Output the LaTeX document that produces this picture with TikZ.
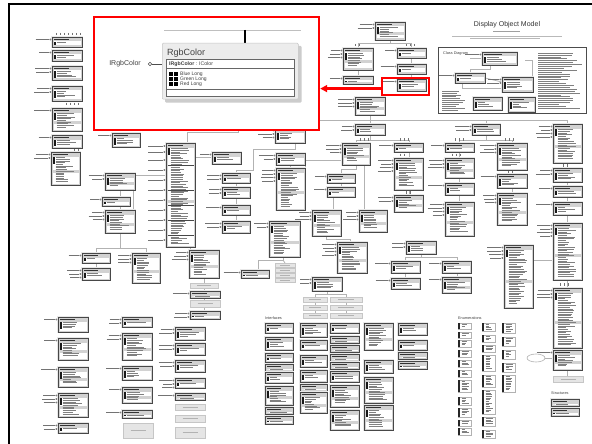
\documentclass[tikz,border=0pt]{standalone}
\usepackage{fontspec}
\setmainfont{Liberation Sans}
\usetikzlibrary{arrows.meta}

\tikzset{
  txt/.style={draw=black!50, line width=0.6pt},
  lbl/.style={draw=black!55, line width=0.7pt},
  hd/.style={draw=black!80, line width=0.9pt},
  boxline/.style={draw=black!72, line width=0.75pt},
  lol/.style={draw=black!60, fill=white, line width=0.3pt},
  conn/.style={draw=gray!60, line width=0.75pt},
  hilite/.style={draw=red, line width=2.2pt},
  callarrow/.style={red, line width=2.2pt, -{Triangle[length=7pt,width=7pt]}},
  rgbbox/.style={fill=gray!15, draw=gray!45, line width=0.5pt, rounded corners=1pt, inner sep=0pt},
  rgbtext/.style={text=black!75, inner sep=0pt},
}

% class box: x, y (top left), width, height, number of interface labels
\newcommand\cb[5]{%
  \fill[gray!18] (#1-1,#2-1) rectangle ++(#3+2,#4+2);
  \fill[gray!35] (#1,#2) rectangle ++(#3,#4);
  \fill[white] (#1+1.5,#2+4.5) rectangle (#1+#3-1.5,#2+#4-1.5);
  \ifdim#4pt>15pt
    \fill[gray!35] (#1+1.5,{#2+#4*0.55}) rectangle ++(#3-3,3);
  \fi
  \pgfmathtruncatemacro\nLines{max(1,(#4-7)/1.7)}
  \foreach \k in {1,...,\nLines}{%
    \pgfmathsetmacro\lenA{(#3-8)*(0.35+0.55*rnd)}
    \draw[txt] (#1+4.5,#2+3.8+1.7*\k) -- ++(\lenA,0);}
  \fill[black!90] (#1+2,#2+5.3) rectangle ++(2.2,{min(#4-7,7)});
  \draw[boxline] (#1,#2) rectangle ++(#3,#4);
  \draw[hd] (#1+2,#2+2.3) -- ++({#3*0.5},0);
  \ifnum#5>0
    \foreach \k in {1,...,#5}{%
      \pgfmathsetmacro\lenA{9+6*rnd}
      \draw[lbl] (#1-2.6-\lenA,#2-1+3.5*\k) -- (#1-2.6,#2-1+3.5*\k);
      \draw[lol] (#1-1.6,#2-1+3.5*\k) circle (0.75);}
  \fi
}
% plain grey note box
\newcommand\gb[4]{%
  \filldraw[fill=gray!20, draw=gray!45, line width=0.5pt] (#1,#2) rectangle ++(#3,#4);
  \draw[gray!60, line width=0.6pt] (#1+#3*0.25,#2+#4/2) -- ++(#3*0.5,0);
}
% enumeration entry
\newcommand\eb[3]{%
  \draw[gray!60, line width=0.4pt] (#1,#2) rectangle ++(13,#3);
  \fill[black!85] (#1,#2) rectangle ++(2.4,#3);
  \pgfmathtruncatemacro\nLines{max(1,(#3-1)/1.7)}
  \foreach \k in {1,...,\nLines}{%
    \pgfmathsetmacro\lenA{8*(0.4+0.6*rnd)}
    \draw[txt, line width=0.5pt] (#1+3.5,#2+1.7*\k-0.6) -- ++(\lenA,0);}
}
% block of text lines: x, y, max width, lines, spacing
\newcommand\tb[5]{%
  \foreach \k in {1,...,#4}{%
    \pgfmathsetmacro\lenA{#3*(0.45+0.55*rnd)}
    \draw[txt, line width=0.55pt] (#1,#2+#5*\k-#5) -- ++(\lenA,0);}
}
% tick marks above a box: x start, y, count
\newcommand\ticks[3]{%
  \foreach \k in {1,...,#3}{\draw[black!55, line width=0.6pt] (#1+4*\k-4,#2) -- ++(0,2.5);}
}

\begin{document}
\begin{tikzpicture}[x=1pt, y=-1pt]
\pgfmathsetseed{7}
\path[use as bounding box, fill=white] (0,0) rectangle (592,444);

% slide frame
\draw[line width=2.6pt, line cap=rect] (592,4) -- (9,4) -- (9,446);

% ---------- connectors ----------
\draw[conn] (238,120) -- (567,120);
\draw[conn] (370,115) -- (370,124);
\draw[conn] (486,120) -- (486,124);
\draw[conn] (567,120) -- (567,124);
\draw[conn] (238,129) -- (238,132) -- (187,132) -- (187,143);
\draw[conn] (295,143) -- (295,149) -- (253,149) -- (253,170) -- (236,170) -- (236,173);
\draw[conn] (195,157) -- (212,157);
\draw[conn] (135,175) -- (166,175);
\draw[conn] (120,190) -- (120,197);
\draw[conn] (120,206) -- (120,210);
\draw[conn] (133,190) -- (133,210);
\draw[conn] (120,233) -- (120,248);
\draw[conn] (96,248) -- (146,248);
\draw[conn] (96,248) -- (96,253);
\draw[conn] (146,248) -- (146,253);
\draw[conn] (96,263) -- (96,268);
\draw[conn] (190,247) -- (190,250);
\draw[conn] (204,278) -- (204,311);
\draw[conn] (236,183) -- (236,187);
\draw[conn] (236,198) -- (236,205);
\draw[conn] (236,215) -- (236,221);
\draw[conn] (290,165) -- (290,168);
\draw[conn] (283,257) -- (283,260) -- (258,260) -- (258,270);
\draw[conn] (283,260) -- (285,263);
\draw[conn] (370,135) -- (370,140);
\draw[conn] (356,140) -- (409,140);
\draw[conn] (356,140) -- (356,143);
\draw[conn] (409,140) -- (409,143);
\draw[conn] (486,135) -- (486,140);
\draw[conn] (459,140) -- (512,140);
\draw[conn] (459,140) -- (459,143);
\draw[conn] (512,140) -- (512,143);
\draw[conn] (409,152) -- (409,158);
\draw[conn] (409,190) -- (409,195);
\draw[conn] (459,152) -- (459,158);
\draw[conn] (459,178) -- (459,183);
\draw[conn] (459,195) -- (459,202);
\draw[conn] (512,170) -- (512,174);
\draw[conn] (512,188) -- (512,193);
\draw[conn] (567,163) -- (567,168);
\draw[conn] (567,182) -- (567,186);
\draw[conn] (567,197) -- (567,202);
\draw[conn] (567,215) -- (567,223);
\draw[conn] (567,280) -- (567,288);
\draw[conn] (567,348) -- (567,350);
\draw[conn] (567,370) -- (567,376);
\draw[conn] (356,165) -- (356,169) -- (341,169) -- (341,174);
\draw[conn] (341,183) -- (341,187);
\draw[conn] (333,197) -- (333,210);
\draw[conn] (364,165) -- (364,210);
\draw[conn] (326,236) -- (326,239) -- (350,239) -- (350,242);
\draw[conn] (305,210) -- (305,160) -- (342,160);
\draw[conn] (421,254) -- (421,257);
\draw[conn] (405,257) -- (457,257);
\draw[conn] (405,257) -- (405,261);
\draw[conn] (457,257) -- (457,261);
\draw[conn] (405,273) -- (405,278);
\draw[conn] (457,273) -- (457,277);
\draw[conn] (327,291) -- (327,294) -- (315,294) -- (315,297);
\draw[conn] (327,294) -- (346,294) -- (346,297);
\draw[conn] (315,302) -- (315,305);
\draw[conn] (315,310) -- (315,313);
\draw[conn] (346,302) -- (346,305);
\draw[conn] (346,310) -- (346,313);
\draw[conn] (390,40) -- (390,43);
\draw[conn] (358,43) -- (411,43);
\draw[conn] (358,43) -- (358,48);
\draw[conn] (411,43) -- (411,48);
\draw[conn] (411,58) -- (411,64);
\draw[conn] (411,74) -- (411,79);
\draw[conn] (358,70) -- (358,76);
\draw[conn] (533,260) -- (553,260);
\draw[conn] (545,358) -- (553,358);
\draw[gray!60, line width=0.6pt] (536,358) ellipse (9 and 4);
\ticks{56}{33}{7}
\ticks{66}{102.5}{4}
\ticks{74}{148.5}{2}
\ticks{360}{138}{3}
\ticks{400}{138}{3}
\ticks{455}{138}{3}
\ticks{505}{138}{3}
\ticks{400}{153.5}{2}
\ticks{452}{153.5}{3}
\ticks{406}{191}{2}
\ticks{508}{171}{2}
\ticks{563}{164}{2}
\ticks{560}{283}{3}
\ticks{355}{44}{2}
\ticks{406}{44}{3}

% ---------- upper right tree ----------
\cb{375}{22}{30}{18}{2}
\cb{343}{48}{30}{22}{3}
\cb{397}{48}{29}{10}{1}
\cb{397}{64}{29}{10}{1}
\cb{343}{76}{30}{8}{1}
\cb{397}{79}{29}{12}{1}
\cb{355}{97}{30}{18}{3}

% ---------- main body ----------
\cb{355}{124}{30}{11}{2}
\cb{472}{124}{28}{11}{2}
\cb{553}{124}{29}{39}{4}
\cb{342}{143}{28}{22}{3}
\cb{394}{143}{29}{9}{1}
\cb{394}{158}{29}{32}{4}
\cb{394}{195}{29}{17}{2}
\cb{327}{174}{28}{9}{1}
\cb{327}{187}{28}{10}{1}
\cb{312}{210}{29}{26}{3}
\cb{359}{210}{28}{22}{3}
\cb{337}{242}{30}{31}{4}
\cb{312}{277}{30}{14}{2}
\cb{406}{241}{30}{13}{2}
\cb{391}{261}{29}{12}{1}
\cb{391}{278}{29}{11}{1}
\cb{442}{261}{29}{12}{1}
\cb{442}{277}{29}{16}{1}
\cb{445}{143}{29}{9}{1}
\cb{445}{158}{29}{20}{3}
\cb{445}{183}{29}{12}{1}
\cb{445}{202}{29}{34}{4}
\cb{497}{143}{30}{27}{3}
\cb{497}{174}{30}{14}{1}
\cb{497}{193}{30}{32}{3}
\cb{504}{245}{29}{63}{4}
\cb{553}{168}{29}{14}{2}
\cb{553}{186}{29}{11}{1}
\cb{553}{202}{29}{13}{1}
\cb{553}{223}{29}{57}{4}
\cb{553}{288}{29}{60}{3}
\cb{553}{350}{29}{20}{1}
\gb{553}{376}{30}{6}

\cb{275}{128}{30}{15}{3}
\cb{276}{153}{29}{12}{2}
\cb{276}{168}{29}{42}{4}
\cb{269}{221}{31}{36}{2}
\cb{222}{173}{28}{10}{2}
\cb{222}{187}{28}{11}{2}
\cb{222}{205}{28}{10}{1}
\cb{222}{221}{28}{12}{2}
\cb{212}{152}{29}{12}{1}
\cb{166}{143}{29}{104}{0}
\foreach \yy in {146,152,160,170,180,190,200,210,220,230,240}{%
  \draw[lbl] (148,\yy) -- (163,\yy); \draw[lol] (164.4,\yy) circle (0.75);}
\foreach \yy in {165,190,205,220,235} {\draw[boxline] (167.5,\yy) -- (193.5,\yy);}
\cb{105}{173}{30}{17}{2}
\cb{102}{197}{28}{9}{1}
\cb{105}{210}{30}{23}{3}
\cb{112}{133}{28}{14}{1}
\cb{82}{253}{28}{10}{1}
\cb{82}{268}{28}{12}{3}
\cb{132}{253}{28}{30}{3}
\cb{189}{250}{30}{28}{3}
\gb{190}{283}{28}{5}
\cb{190}{291}{30}{7}{1}
\gb{190}{300}{30}{7}
\cb{190}{311}{30}{8}{2}
\cb{241}{270}{28}{8}{1}
\foreach \yy in {263,268,273,278} {\gb{275}{\yy}{20}{4}}

% ---------- left column ----------
\cb{52}{37}{30}{10}{1}
\cb{52}{50}{30}{11}{1}
\cb{52}{66}{30}{14}{2}
\cb{52}{86}{30}{15}{2}
\cb{52}{108}{30}{23}{1}
\cb{52}{135}{30}{13}{1}
\cb{51}{152}{29}{33}{2}

% ---------- lower left ----------
\cb{58}{317}{30}{15}{1}
\cb{58}{338}{30}{22}{1}
\cb{58}{367}{30}{20}{1}
\cb{58}{393}{30}{24}{3}
\cb{58}{423}{30}{10}{2}
\cb{122}{317}{30}{10}{2}
\cb{122}{333}{30}{27}{2}
\cb{122}{366}{30}{14}{1}
\cb{122}{387}{30}{16}{1}
\cb{122}{410}{30}{8}{1}
\gb{123}{423}{30}{15}
\cb{175}{327}{30}{13}{2}
\cb{175}{343}{30}{12}{2}
\cb{175}{360}{30}{12}{2}
\cb{175}{378}{30}{10}{3}
\cb{175}{393}{30}{7}{1}
\gb{175}{404}{30}{6}
\gb{175}{415}{30}{7}
\gb{175}{427}{30}{11}

% ---------- interfaces ----------
\node[anchor=west, inner sep=0pt, font=\fontsize{3.8}{4}\selectfont, text=black!75] (ifhead) at (265,318) {Interfaces};
\foreach \yy/\hh in {323/10,337/13,353/9,364/7,372/11,386/19,407/7,416/8} {\cb{265}{\yy}{28}{\hh}{0}}
\foreach \yy/\hh in {323/14,340/10,355/12,370/12,384/7,392/21} {\cb{300}{\yy}{27}{\hh}{0}}
\foreach \yy/\hh in {323/10,336/7,345/7,354/7,362/7,371/11,385/22,410/20} {\cb{330}{\yy}{29}{\hh}{0}}
\foreach \yy/\hh in {323/27,360/13,377/26,405/25} {\cb{364}{\yy}{29}{\hh}{0}}
\foreach \yy/\hh in {323/12,340/10,352/7,361/8} {\cb{398}{\yy}{29}{\hh}{0}}
\foreach \yy in {297,305,313} {\gb{303}{\yy}{24}{5} \gb{330}{\yy}{32}{5}}

% ---------- enumerations ----------
\node[anchor=west, inner sep=0pt, font=\fontsize{3.8}{4}\selectfont, text=black!75] (enhead) at (458,318) {Enumerations};
\foreach \yy/\hh in {323/6,332/6,340/7,350/7,360/7,370/7,380/12,397/8,408/9,420/6,428/7} {\eb{458}{\yy}{\hh}}
\foreach \yy/\hh in {323/8,335/7,345/7,355/16,375/12,390/24,417/9,430/8} {\eb{482}{\yy}{\hh}}
\foreach \yy/\hh in {323/10,337/9,350/9,363/9,375/17} {\eb{502}{\yy}{\hh}}

% ---------- structures ----------
\node[anchor=west, inner sep=0pt, font=\fontsize{3.8}{4}\selectfont, text=black!75] (sthead) at (551,393) {Structures};
\cb{551}{399}{28}{7}{0}
\cb{551}{408}{28}{8}{0}

% ---------- title and class diagram key ----------
\node[inner sep=0pt, font=\fontsize{7}{8}\selectfont, text=black!80] (title) at (507,25) {Display Object Model};
\draw[gray!75, line width=0.9pt] (493,31.5) -- (520,31.5);
\draw[gray!55, line width=0.6pt] (452,36.5) -- (562,36.5);
\draw[gray!55, line width=0.5pt] (470,38.5) -- (540,38.5);
\node[draw=gray!60!black, line width=0.8pt, minimum width=148, minimum height=66, anchor=north west, inner sep=0pt] (key) at (438,47) {};
\node[anchor=west, inner sep=0pt, font=\fontsize{3.8}{4}\selectfont, text=black!75] (keyhead) at (443,53.5) {Class Diagram};
\draw[conn] (470,58) -- (482,58);
\draw[conn] (490,65) -- (490,69) -- (470,69) -- (470,73);
\draw[conn] (525,60) -- (532,60) -- (532,77);
\draw[conn] (485,78) -- (502,82);
\draw[conn] (462,83) -- (462,88) -- (533,88);
\cb{482}{52}{35}{13}{1}
\cb{455}{73}{30}{10}{1}
\cb{502}{77}{31}{15}{2}
\cb{473}{97}{29}{13}{0}
\cb{508}{97}{27}{15}{0}
\tb{538}{53}{44}{30}{1.9}
\tb{442}{91}{25}{11}{1.9}

% ---------- enlarged RgbColor class ----------
\node[hilite, fill=white, minimum width=225, minimum height=113, anchor=north west, inner sep=0pt] (zoom) at (93,16) {};
\draw[gray!50, line width=0.8pt] (164,30) -- (301,30);
\draw[black, line width=2.2pt] (245,30) -- (245,43);
\fill[gray!40, rounded corners=1pt] (165,46) rectangle (301.5,102.5);
\node[rgbbox, minimum width=136, minimum height=56, anchor=north west] (rgb) at (162,43) {};
\node[rgbtext, anchor=base west, font=\fontsize{9}{10}\selectfont] (rgbname) at (167,55.5) {RgbColor};
\node[draw=black!60, fill=white, line width=0.5pt, minimum width=128, minimum height=37, anchor=north west, inner sep=0pt] (members) at (166,59) {};
\draw[black!60, line width=0.5pt] (166,68.5) -- (294,68.5);
\draw[black!60, line width=0.5pt] (166,89.5) -- (294,89.5);
\node[rgbtext, anchor=west, font=\fontsize{5.2}{6}\selectfont] (iface) at (169,63.8) {\textbf{IRgbColor} : IColor};
\foreach \yy/\nm in {74.2/Blue Long, 79.2/Green Long, 84.2/Red Long}{%
  \fill[black] (168.5,\yy-2) rectangle ++(4,4);
  \fill[black] (174,\yy-2) rectangle ++(4,4);
  \node[rgbtext, anchor=west, font=\fontsize{5}{5.5}\selectfont] at (180,\yy) {\nm};}
\node[circle, draw=black!70, line width=0.5pt, minimum size=3.6pt, inner sep=0pt] (lp) at (150,64) {};
\draw[black!70, line width=0.5pt] (lp) -- (rgb.west |- lp);
\node[rgbtext, anchor=east, font=\fontsize{7}{8}\selectfont] (ilabel) at (141,64) {IRgbColor};

% ---------- highlight and pointer ----------
\node[hilite, minimum width=47, minimum height=17, anchor=north west, inner sep=0pt] (hl) at (381,77) {};
\coordinate (from) at ([yshift=-2pt]hl.west);
\draw[callarrow] (from) -- (from -| zoom.east);
\end{tikzpicture}
\end{document}
